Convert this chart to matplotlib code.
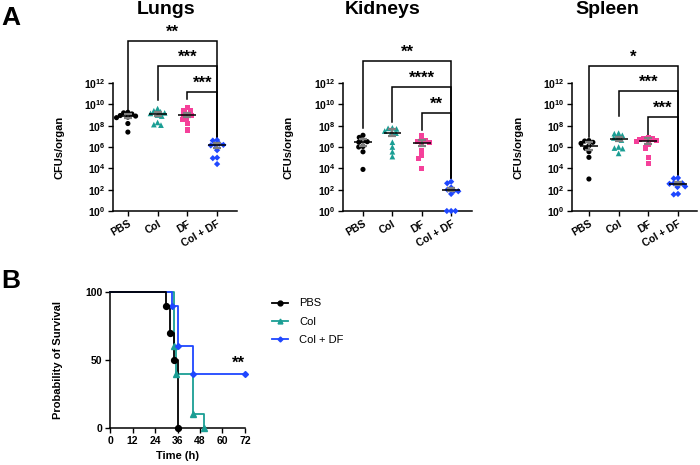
import numpy as np
import matplotlib
matplotlib.use('Agg')
import matplotlib.pyplot as plt

plt.rcParams['font.family'] = ['Liberation Sans', 'DejaVu Sans']
plt.rcParams['font.weight'] = 'bold'
plt.rcParams['axes.labelweight'] = 'bold'
plt.rcParams['mathtext.fontset'] = 'custom'
plt.rcParams['mathtext.rm'] = 'Liberation Sans:bold'
plt.rcParams['mathtext.it'] = 'Liberation Sans:bold'
plt.rcParams['mathtext.bf'] = 'Liberation Sans:bold'

# ---------------- data ----------------
groups = ['PBS', 'Col', 'DF', 'Col + DF']
organs = ['Lungs', 'Kidneys', 'Spleen']

# log10 CFUs/organ
lungs_pbs = [9.2, 9.1, 9.25, 8.9, 8.75, 8.8, 8.95, 8.2, 7.4]
lungs_col = [9.6, 9.4, 9.3, 9.15, 9.2, 8.9, 8.05, 8.1, 8.3, 9.0]
lungs_df = [9.7, 9.4, 9.45, 9.0, 9.05, 8.95, 8.6, 8.65, 8.2, 7.6]
lungs_coldf = [6.6, 6.65, 6.2, 6.15, 6.25, 6.3, 5.7, 4.95, 5.0, 4.4]

kidneys_pbs = [7.1, 6.9, 6.5, 6.55, 6.45, 6.0, 6.05, 5.55, 3.9]
kidneys_col = [7.75, 7.8, 7.7, 7.5, 7.4, 7.3, 6.45, 6.0, 5.55, 5.1]
kidneys_df = [7.1, 6.7, 6.6, 6.5, 6.45, 6.3, 5.7, 5.2, 4.95, 4.0]
kidneys_coldf = [2.75, 2.6, 2.2, 2.0, 1.9, 1.85, 1.6, 0.0, 0.0, 0.0]

spleen_pbs = [6.56, 6.6, 6.44, 6.34, 6.12, 5.87, 5.56, 5.03, 3.0]
spleen_col = [7.3, 7.25, 7.1, 6.9, 6.85, 6.65, 6.0, 5.9, 5.85, 5.4]
spleen_df = [6.85, 6.8, 6.75, 6.7, 6.6, 6.5, 6.2, 5.9, 5.0, 4.45]
spleen_coldf = [3.1, 3.05, 2.6, 2.55, 2.65, 2.6, 2.3, 2.25, 1.6, 1.55]

organ_data = [
    [lungs_pbs, lungs_col, lungs_df, lungs_coldf],
    [kidneys_pbs, kidneys_col, kidneys_df, kidneys_coldf],
    [spleen_pbs, spleen_col, spleen_df, spleen_coldf],
]

# significance comparisons (group i vs Col + DF)
comparisons = [(0, 3), (1, 3), (2, 3)]
lungs_stars = ['**', '***', '***']
kidneys_stars = ['**', '****', '**']
spleen_stars = ['*', '***', '***']
organ_stars = [lungs_stars, kidneys_stars, spleen_stars]

# bracket levels (log10) and leg ends
lungs_bracket = [15.93, 13.59, 11.15]
kidneys_bracket = [14.06, 11.62, 9.18]
spleen_bracket = [13.59, 11.25, 8.81]
organ_brackets = [lungs_bracket, kidneys_bracket, spleen_bracket]
lungs_legs = [9.47, 10.4, 10.5, 6.84]
kidneys_legs = [7.78, 8.34, 7.59, 3.09]
spleen_legs = [6.96, 8.9, 6.96, 3.2]
organ_legs = [lungs_legs, kidneys_legs, spleen_legs]

# survival (Kaplan-Meier steps)
surv_labels = ['PBS', 'Col', 'Col + DF']
pbs_t = [0, 30, 32, 34, 36]
pbs_s = [100, 90, 70, 50, 0]
col_t = [0, 34, 35, 44, 50]
col_s = [100, 60, 40, 10, 0]
coldf_t = [0, 33, 36, 44, 72]
coldf_s = [100, 90, 60, 40, 40]
surv_xticks = [0, 12, 24, 36, 48, 60, 72]
surv_yticks = [0, 50, 100]

# ---------------- styles ----------------
colors = ['#000000', '#1a9e94', '#f5409a', '#1f47ff']
markers = ['o', '^', 's', 'D']
msizes = [3.7, 4.1, 3.7, 3.2]

W, H = 700, 465
fig = plt.figure(figsize=(W / 100, H / 100), dpi=100)

def px_axes(left, top, width, height):
    return fig.add_axes([left / W, 1 - (top + height) / H, width / W, height / H])

panel_boxes = [(113, 83, 124, 128), (343, 83, 129, 128), (572, 83, 125, 128)]
panel_xlims = [(-0.5, 3.67), (-0.68, 3.71), (-0.57, 3.64)]
title_x = [166, 383, 607]

def swarm_offsets(vals, ppd, ppu, d=4.3):
    vals = np.asarray(vals, float)
    order = np.argsort(-vals, kind='stable')
    placed = []
    offs = np.zeros(len(vals))
    for i in order:
        y = vals[i] * ppd
        cands = [0.0]
        for (px, py) in placed:
            dy = abs(py - y)
            if dy < d:
                dx = np.sqrt(d * d - dy * dy)
                cands += [px - dx, px + dx]
        cands = sorted(cands, key=lambda c: (abs(c), c))
        for c in cands:
            ok = True
            for (px, py) in placed:
                if (px - c) ** 2 + (py - y) ** 2 < d * d - 1e-6:
                    ok = False
                    break
            if ok:
                offs[i] = c / ppu
                placed.append((c, y))
                break
    return offs

for k, organ in enumerate(organs):
    left, top, width, height = panel_boxes[k]
    ax = px_axes(left, top, width, height)
    ax.set_yscale('log')
    ax.set_ylim(1, 1e12)
    ax.set_xlim(*panel_xlims[k])
    ppd = height / 12.0
    ppu = width / (panel_xlims[k][1] - panel_xlims[k][0])
    for g, vals in enumerate(organ_data[k]):
        vals = np.asarray(vals, float)
        offs = swarm_offsets(vals, ppd, ppu)
        ax.scatter(g + offs, 10 ** vals, s=msizes[g] ** 2, marker=markers[g],
                   color=colors[g], edgecolors='none', zorder=3, clip_on=False)
        pos = vals[vals > 0]
        med = np.median(pos)
        sem = np.std(pos, ddof=1) / np.sqrt(len(pos))
        ax.errorbar([g], [10 ** med], yerr=[[10 ** med - 10 ** (med - sem)], [10 ** (med + sem) - 10 ** med]],
                    fmt='none', ecolor='#7f7f7f', elinewidth=1.6, capsize=3.2, capthick=1.6, zorder=4)
        ax.hlines(10 ** med, g - 0.3, g + 0.3, color='black', lw=1.1, zorder=5)
    # brackets
    legs = organ_legs[k]
    for (i, j), lev, st in zip(comparisons, organ_brackets[k], organ_stars[k]):
        ax.plot([i, i, j, j], [10 ** legs[i], 10 ** lev, 10 ** lev, 10 ** legs[j]],
                color='black', lw=1.1, clip_on=False, solid_joinstyle='miter')
        ax.annotate(st, xy=((i + j) / 2, 10 ** lev), xytext=(0, 6.0), textcoords='offset points',
                    ha='center', va='center', fontsize=12, fontweight='bold', annotation_clip=False)
    ax.set_xticks(range(len(groups)))
    ax.set_xticklabels(groups, rotation=30, ha='right', rotation_mode='anchor', fontsize=7.5)
    yt = [10.0 ** e for e in range(0, 13, 2)]
    ax.set_yticks(yt)
    ax.set_yticklabels([r'$10^{%d}$' % e for e in range(0, 13, 2)], fontsize=7.5)
    ax.yaxis.set_minor_locator(matplotlib.ticker.NullLocator())
    ax.tick_params(direction='out', length=3.5, width=1.0, pad=2)
    for sp in ['top', 'right']:
        ax.spines[sp].set_visible(False)
    for sp in ['left', 'bottom']:
        ax.spines[sp].set_linewidth(1.1)
    ax.set_ylabel('CFUs/organ', fontsize=8, fontweight='bold')
    ax.yaxis.set_label_coords(-49 / width, 0.5)
    fig.text(title_x[k] / W, 1 - 9 / H, organ, ha='center', va='center', fontsize=14, fontweight='bold')

fig.text(1 / W, 1 - 18 / H, 'A', ha='left', va='center', fontsize=19, fontweight='bold')
fig.text(1 / W, 1 - 281 / H, 'B', ha='left', va='center', fontsize=19, fontweight='bold')

# ---------------- survival ----------------
axs = px_axes(110, 292, 135, 136)
surv = [(col_t, col_s, 1, 'Col'), (coldf_t, coldf_s, 3, 'Col + DF'), (pbs_t, pbs_s, 0, 'PBS')]
handles = {}
for t, s, ci, lab in surv:
    axs.step(t, s, where='post', color=colors[ci], lw=1.3, clip_on=False, zorder=3)
    axs.plot(t[1:], s[1:], linestyle='none', marker=markers[ci],
             ms=4.2 if ci != 3 else 3.0, color=colors[ci], clip_on=False, zorder=4)
    handles[lab] = matplotlib.lines.Line2D([], [], color=colors[ci], lw=1.3, marker=markers[ci],
                                           ms=3.5 if ci != 3 else 2.5)
axs.set_xlim(0, 72)
axs.set_ylim(0, 100)
axs.set_xticks(surv_xticks)
axs.set_yticks(surv_yticks)
axs.tick_params(direction='out', length=3.5, width=1.0, labelsize=7.5, pad=2)
for sp in ['top', 'right']:
    axs.spines[sp].set_visible(False)
for sp in ['left', 'bottom']:
    axs.spines[sp].set_linewidth(1.1)
axs.set_xlabel('Time (h)', fontsize=8, fontweight='bold')
axs.xaxis.set_label_coords(0.5, -23 / 136)
axs.set_ylabel('Probability of Survival', fontsize=8, fontweight='bold')
axs.yaxis.set_label_coords(-47 / 135, 0.5)
axs.annotate('**', xy=(coldf_t[-1], coldf_s[-1]), xytext=(-5, 7.5), textcoords='offset points',
             ha='center', va='center', fontsize=12, fontweight='bold', annotation_clip=False)

leg = fig.legend([handles[l] for l in surv_labels], surv_labels, loc='upper left',
                 bbox_to_anchor=(268 / W, 1 - 294 / H), frameon=False, fontsize=8,
                 handlelength=1.4, handletextpad=1.0, labelspacing=0.75, borderaxespad=0)
for txt in leg.get_texts():
    txt.set_fontweight('normal')

fig.savefig('out.png', dpi=100)
